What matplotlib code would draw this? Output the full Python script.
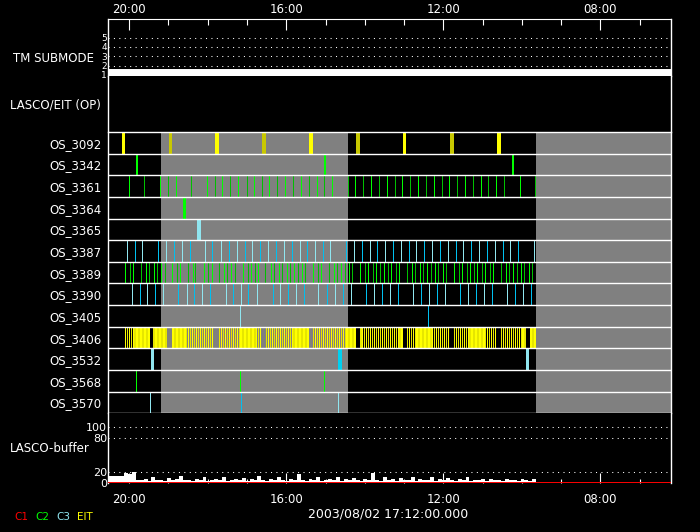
import matplotlib
matplotlib.use("Agg")
import matplotlib.pyplot as plt
from matplotlib.ticker import FixedLocator, FuncFormatter

# time window (plot runs backwards in time, left to right)
T_LEFT = "20:32"
T_RIGHT = "06:12"
DATE_LABEL = "2003/08/02 17:12:00.000"

# shaded (gray) intervals in the OS rows
gray_spans = [("19:11", "14:26"), ("09:38", "06:12")]

tm_times = ["20:32", "06:12"]
tm_mode = [1, 1]

row_names = ["OS_3092", "OS_3342", "OS_3361", "OS_3364", "OS_3365", "OS_3387",
             "OS_3389", "OS_3390", "OS_3405", "OS_3406", "OS_3532", "OS_3568",
             "OS_3570"]

os_3092_a = ["20:09", "17:46", "15:22", "12:59", "10:35"]
os_3092_b = ["18:57", "16:34", "14:10", "11:47"]
os_3342 = ["19:48", "15:01", "10:13"]
os_3361 = ["20:00", "19:37", "19:12", "19:00", "18:48", "18:25", "18:01", "17:48",
           "17:37", "17:25", "17:13", "17:00", "16:49", "16:36", "16:25", "16:13",
           "16:01", "15:49", "15:37", "15:25", "15:13", "15:01", "14:50", "14:25",
           "14:14", "14:02", "13:50", "13:38", "13:26", "13:13", "13:02", "12:50",
           "12:38", "12:26", "12:14", "12:01", "11:51", "11:39", "11:26", "11:14",
           "11:02", "10:51", "10:39", "10:27", "10:02", "09:39"]
os_3364 = ["18:36"]
os_3365 = ["18:13"]
os_3387 = ["20:03", "19:51", "19:39", "19:16", "19:03", "18:51", "18:39", "18:27",
           "18:04", "17:52", "17:39", "17:27", "17:15", "17:03", "16:52", "16:40",
           "16:27", "16:15", "16:03", "15:51", "15:39", "15:27", "15:15", "15:03",
           "14:52", "14:28", "14:16", "14:04", "13:52", "13:41", "13:29", "13:16",
           "13:04", "12:52", "12:41", "12:29", "12:17", "12:05", "11:52", "11:40",
           "11:29", "11:17", "11:05", "10:53", "10:40", "10:28", "10:18", "10:05",
           "09:41"]
os_3389 = ["20:06", "19:58", "19:54", "19:42", "19:34", "19:29", "19:22", "19:17",
           "19:11", "19:05", "18:54", "18:47", "18:42", "18:30", "18:22", "18:18",
           "18:05", "17:59", "17:53", "17:42", "17:35", "17:30", "17:23", "17:18",
           "17:06", "16:58", "16:53", "16:47", "16:43", "16:31", "16:23", "16:18",
           "16:11", "16:06", "15:58", "15:54", "15:48", "15:42", "15:35", "15:31",
           "15:19", "15:11", "15:06", "14:54", "14:47", "14:42", "14:36", "14:30",
           "14:24", "14:19", "14:07", "13:59", "13:55", "13:47", "13:42", "13:36",
           "13:30", "13:24", "13:19", "13:12", "13:07", "12:55", "12:47", "12:43",
           "12:35", "12:31", "12:24", "12:18", "12:12", "12:08", "12:00", "11:55",
           "11:43", "11:35", "11:31", "11:23", "11:19", "11:13", "11:08", "11:00",
           "10:56", "10:48", "10:44", "10:31", "10:24", "10:19", "10:13", "10:07",
           "10:01", "09:56", "09:48", "09:44"]
os_3390 = ["19:55", "19:43", "19:32", "19:20", "19:08", "18:44", "18:31", "18:21",
           "18:08", "17:56", "17:32", "17:21", "17:09", "16:57", "16:44", "16:20",
           "16:09", "15:57", "15:45", "15:32", "15:10", "14:57", "14:45", "14:33",
           "14:21", "13:58", "13:45", "13:33", "13:21", "13:09", "12:46", "12:34",
           "12:21", "12:09", "11:57", "11:34", "11:22", "11:10", "10:57", "10:45",
           "10:22", "10:10", "09:58", "09:45"]
os_3405_a = ["17:10"]
os_3405_b = ["12:23"]
os_3406 = ("20:06 20:03 20:00 19:57 19:54 19:51 19:48 19:45 19:42 19:39 19:36 19:33 19:30 "
           "19:22 19:19 19:16 19:13 19:10 19:07 19:04 "
           "18:53 18:50 18:47 18:44 18:41 18:38 18:35 18:32 18:29 18:26 18:23 18:20 18:17 "
           "18:14 18:11 18:08 18:05 18:02 17:59 17:56 17:53 "
           "17:42 17:39 17:36 17:33 17:30 17:27 17:24 17:21 17:18 17:15 17:12 17:09 17:06 "
           "17:03 17:00 16:57 16:54 16:51 16:48 16:45 16:42 16:39 "
           "16:30 16:27 16:24 16:21 16:18 16:15 16:12 16:09 16:06 16:03 16:00 15:57 15:54 "
           "15:51 15:48 15:45 15:42 15:39 15:36 15:33 15:30 15:27 "
           "15:18 15:15 15:12 15:09 15:06 15:03 15:00 14:57 14:54 14:51 14:48 14:45 14:42 "
           "14:39 14:36 14:33 14:30 14:27 14:24 14:21 14:18 14:15 "
           "14:06 14:03 14:00 13:57 13:54 13:51 13:48 13:45 13:42 13:39 13:36 13:33 13:30 "
           "13:27 13:24 13:21 13:18 13:15 13:12 13:09 13:06 13:03 "
           "12:55 12:52 12:49 12:46 12:43 12:40 12:37 12:34 12:31 12:28 12:25 12:22 12:19 "
           "12:16 12:13 12:10 12:07 12:04 12:01 11:58 11:55 11:52 "
           "11:43 11:40 11:37 11:34 11:31 11:28 11:25 11:22 11:19 11:16 11:13 11:10 11:07 "
           "11:04 11:01 10:58 10:55 10:52 10:49 10:46 10:43 10:40 "
           "10:31 10:28 10:25 10:22 10:19 10:16 10:13 10:10 10:07 10:04 10:01 09:58 09:55 "
           "09:46 09:43 09:40").split()
os_3532_a = ["19:25", "09:51"]
os_3532_b = ["14:38"]
os_3568 = ["19:49", "17:10", "15:02"]
os_3570_a = ["19:28", "14:40"]
os_3570_b = ["17:09"]

# LASCO buffer fill (percent), sampled every 6 minutes from 20:32
buf_start = "20:32"
buf_step_min = 6
buf_total = [12, 12, 12, 13, 18, 16, 20, 6, 5, 8, 4, 10, 5, 6, 4, 9, 5, 7, 12, 5,
             6, 4, 8, 5, 10, 4, 6, 7, 5, 11, 4, 6, 8, 5, 9, 4, 7, 5, 12, 6,
             4, 8, 5, 10, 6, 4, 7, 5, 16, 6, 4, 8, 5, 10, 4, 6, 8, 5, 11, 4,
             7, 5, 9, 6, 4, 8, 5, 18, 6, 4, 10, 5, 7, 4, 9, 6, 5, 11, 4, 8,
             6, 5, 10, 4, 7, 5, 9, 6, 4, 8, 5, 10, 4, 6, 5, 8, 4, 7, 5, 6,
             4, 8, 5, 6, 4, 7, 5, 4, 7]
buf_c1 = [0, 0]
buf_c1_times = ["20:32", "06:12"]

YELLOW = "#ffff00"
OLIVE = "#c8c800"
GREEN = "#00ff00"
GREEN_D = "#00c000"
CYAN_L = "#90e6f0"
CYAN_D = "#00c0f0"
GRAY = "#808080"
RED = "#ff0000"

W, H = 700, 532
AX_L, AX_R = 108.3, 671


def hrs(s):
    h, m = s.split(":")
    return int(h) + int(m) / 60.0


# one screen pixel expressed in hours of the time axis
PIX_H = (hrs(T_LEFT) - hrs(T_RIGHT)) / (AX_R - AX_L)


def box(x0, y0, x1, y1):
    return [x0 / W, 1 - y1 / H, (x1 - x0) / W, (y1 - y0) / H]


def base_axes(ax):
    ax.set_facecolor("black")
    ax.set_xlim(hrs(T_LEFT), hrs(T_RIGHT))
    for side in ("top", "bottom"):
        ax.spines[side].set_visible(False)
    for side in ("left", "right"):
        ax.spines[side].set_color("white")
        ax.spines[side].set_linewidth(1.0)
    ax.xaxis.set_major_locator(FixedLocator([20, 16, 12, 8]))
    ax.xaxis.set_minor_locator(FixedLocator(list(range(7, 21))))
    ax.tick_params(axis="both", which="both", length=0, labelbottom=False, labelleft=False)


fig = plt.figure(figsize=(W / 100, H / 100), dpi=100, facecolor="black")

ax_tm = fig.add_axes(box(AX_L, 19, AX_R, 76.3))
ax_op = fig.add_axes(box(AX_L, 76.3, AX_R, 132))
ax_os = fig.add_axes(box(AX_L, 132, AX_R, 413.3))
ax_buf = fig.add_axes(box(AX_L, 413.3, AX_R, 483))
for ax in (ax_tm, ax_op, ax_os, ax_buf):
    base_axes(ax)

dots = (0, (1, 4.2))
hour_fmt = FuncFormatter(lambda v, p: f"{int(round(v)):02d}:00")

# TM submode
ax_tm.set_ylim(0.84, 7.0)
ax_tm.spines["top"].set_visible(True)
ax_tm.spines["top"].set_color("white")
for lev in (2, 3, 4, 5):
    ax_tm.axhline(lev, color="white", lw=0.75, ls=dots)
ax_tm.plot([hrs(t) for t in tm_times], tm_mode, color="white", lw=8.6, solid_capstyle="butt")
ax_tm.set_yticks([1, 2, 3, 4, 5])
ax_tm.tick_params(axis="y", labelleft=True, labelsize=6.5, labelcolor="white", pad=1)
ax_tm.xaxis.set_major_formatter(hour_fmt)
ax_tm.tick_params(axis="x", which="both", top=True, bottom=False, labeltop=True,
                  direction="in", color="white", width=0.8, labelcolor="white",
                  labelsize=8.5, pad=2)
ax_tm.tick_params(axis="x", which="major", length=8)
ax_tm.tick_params(axis="x", which="minor", length=4.3)

# OS rows
ax_os.set_ylim(len(row_names), 0)
for t0, t1 in gray_spans:
    ax_os.axvspan(hrs(t0), hrs(t1), color=GRAY, lw=0, zorder=0)


def events(row, times, colors, px=1):
    # each event is a solid bar px pixels wide filling the whole row
    i = row_names.index(row)
    xs = [hrs(t) for t in times]
    ax_os.bar(xs, 1, width=px * PIX_H, bottom=i, color=colors, lw=0,
              antialiased=False, zorder=2)


def alt(times, c0, c1):
    return [c0 if k % 2 == 0 else c1 for k in range(len(times))]


events("OS_3092", os_3092_a, YELLOW, px=3.5)
events("OS_3092", os_3092_b, OLIVE, px=3.5)
events("OS_3342", os_3342, GREEN, px=2)
events("OS_3361", os_3361, alt(os_3361, GREEN, GREEN_D))
events("OS_3364", os_3364, GREEN, px=3)
events("OS_3365", os_3365, CYAN_L, px=4)
events("OS_3387", os_3387, alt(os_3387, CYAN_L, CYAN_D))
events("OS_3389", os_3389, alt(os_3389, GREEN, GREEN_D))
events("OS_3390", os_3390, alt(os_3390, CYAN_L, CYAN_D))
events("OS_3405", os_3405_a, CYAN_L)
events("OS_3405", os_3405_b, CYAN_D)
events("OS_3406", os_3406, alt(os_3406, YELLOW, "#e6e600"), px=1.3)
events("OS_3532", os_3532_a, CYAN_L, px=3)
events("OS_3532", os_3532_b, "#00d0f0", px=3.5)
events("OS_3568", os_3568, GREEN)
events("OS_3570", os_3570_a, CYAN_L)
events("OS_3570", os_3570_b, CYAN_D)

ax_os.hlines(range(len(row_names) + 1), hrs(T_LEFT), hrs(T_RIGHT), colors="white",
             lw=1.0, zorder=3, clip_on=False)
ax_os.set_yticks([i + 0.5 for i in range(len(row_names))])
ax_os.set_yticklabels(row_names)
ax_os.tick_params(axis="y", labelleft=True, labelsize=8.5, labelcolor="white", pad=5)

# LASCO buffer
ax_buf.set_ylim(0, 125)
for lev in (20, 80, 100):
    ax_buf.axhline(lev, color="white", lw=0.75, ls=dots)
t0 = hrs(buf_start)
bx = [t0 - k * buf_step_min / 60 for k in range(len(buf_total) + 1)]
ax_buf.fill_between(bx, buf_total + [buf_total[-1]], step="post", color="white", lw=0)
ax_buf.plot([hrs(t) for t in buf_c1_times], buf_c1, color=RED, lw=1.4, zorder=3)
ax_buf.set_yticks([0, 20, 80, 100])
ax_buf.tick_params(axis="y", labelleft=True, labelsize=8, labelcolor="white", pad=1)
ax_buf.xaxis.set_major_formatter(hour_fmt)
ax_buf.tick_params(axis="x", which="both", bottom=True, labelbottom=True, direction="in",
                   color="white", width=0.8, labelcolor="white", labelsize=8.5, pad=7)
ax_buf.tick_params(axis="x", which="major", length=7.2)
ax_buf.tick_params(axis="x", which="minor", length=2.9)


def ptext(x, y, s, **kw):
    fig.text(x / W, 1 - y / H, s, color=kw.pop("color", "white"), va="center", **kw)


ptext(94.3, 58, "TM SUBMODE", ha="right", fontsize=8.5)
ptext(101, 105, "LASCO/EIT (OP)", ha="right", fontsize=8.5)
ptext(90, 449, "LASCO-buffer", ha="right", fontsize=8.5)
ptext(388.5, 513.7, DATE_LABEL, ha="center", fontsize=9)
ptext(14, 516.7, "C1", ha="left", fontsize=7.5, color=RED)
ptext(35, 516.7, "C2", ha="left", fontsize=7.5, color=GREEN)
ptext(56, 516.7, "C3", ha="left", fontsize=7.5, color=CYAN_L)
ptext(77, 516.7, "EIT", ha="left", fontsize=7.5, color=YELLOW)

fig.savefig("out.png", dpi=100, facecolor="black")
